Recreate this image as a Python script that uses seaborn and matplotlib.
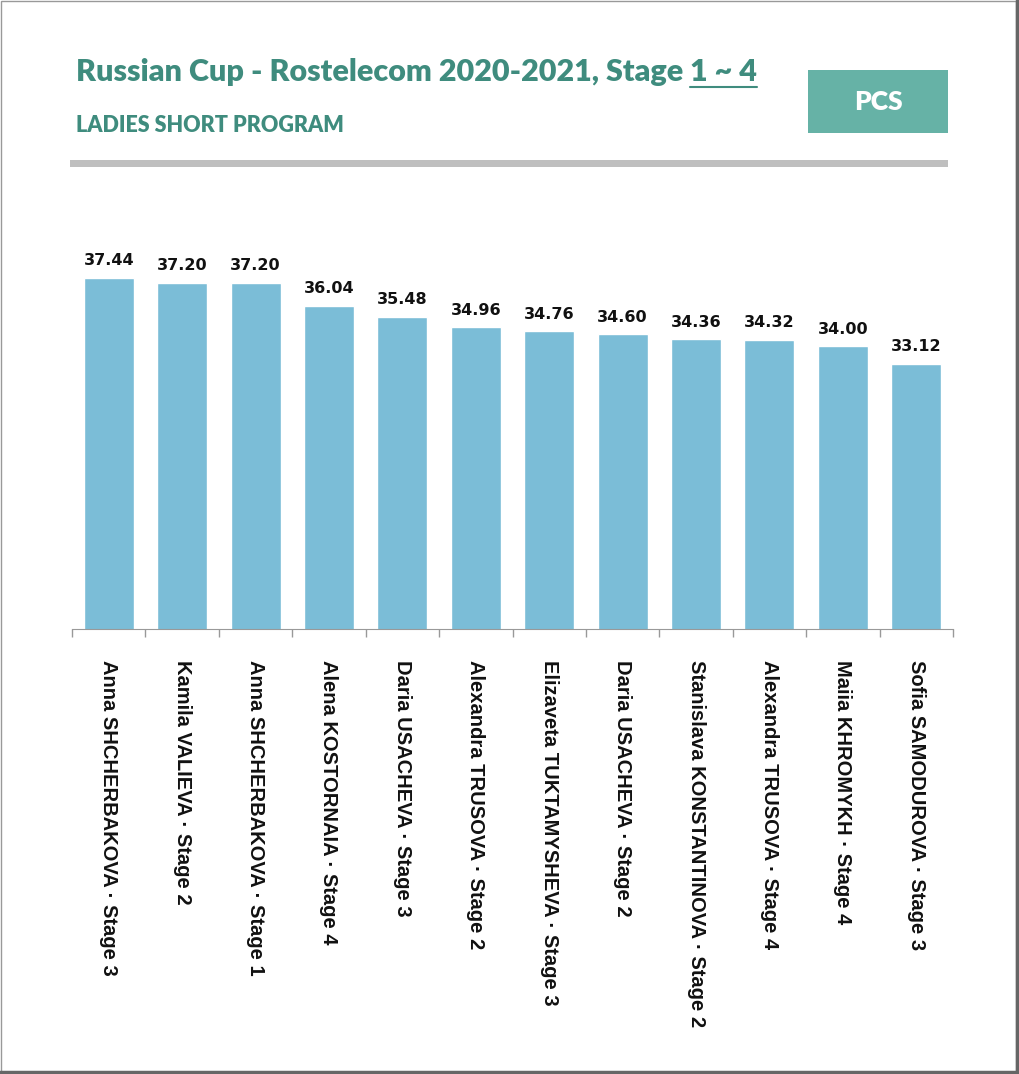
import matplotlib
matplotlib.use("Agg")
import matplotlib.pyplot as plt
import seaborn as sns
import pandas as pd
from matplotlib.patches import Rectangle
from matplotlib.lines import Line2D

# data
skaters = ["Anna SHCHERBAKOVA", "Kamila VALIEVA", "Anna SHCHERBAKOVA",
           "Alena KOSTORNAIA", "Daria USACHEVA", "Alexandra TRUSOVA",
           "Elizaveta TUKTAMYSHEVA", "Daria USACHEVA", "Stanislava KONSTANTINOVA",
           "Alexandra TRUSOVA", "Maiia KHROMYKH", "Sofia SAMODUROVA"]
stages = [3, 2, 1, 4, 3, 2, 3, 2, 2, 4, 4, 3]
pcs = [37.44, 37.20, 37.20, 36.04, 35.48, 34.96, 34.76, 34.60, 34.36, 34.32, 34.00, 33.12]

labels = [f"{n} · Stage {s}" for n, s in zip(skaters, stages)]
df = pd.DataFrame({"label": labels, "pcs": pcs})

TEAL = "#3F8C7E"
BOX = "#66B2A6"
BAR = "#7BBDD7"

sns.set_style("white")
plt.rcParams["font.family"] = ["DejaVu Sans"]

fig = plt.figure(figsize=(10.19, 10.74), dpi=100)
ax = fig.add_axes([72 / 1019, 1 - 629 / 1074, 881 / 1019, 398 / 1074])

sns.barplot(data=df, x="label", y="pcs", color=BAR, saturation=1, width=0.68, ax=ax)
ax.set_ylim(19.8, 39.8)
ax.set_xlim(-0.5, len(labels) - 0.5)

ax.bar_label(ax.containers[0], fmt="%.2f", padding=7, fontsize=11.5,
             fontweight="bold", color="#111111")

for s in ["top", "right", "left"]:
    ax.spines[s].set_visible(False)
ax.spines["bottom"].set_color("#999999")
ax.set_yticks([])
ax.set_xlabel("")
ax.set_ylabel("")
ax.set_xticks(range(len(labels)))
ax.set_xticklabels(labels, rotation=270, fontsize=14.5, fontweight="bold",
                   family="Liberation Sans", color="#111111",
                   va="top", ha="center")
ax.tick_params(axis="x", which="major", length=0, pad=22)
ax.set_xticks([i - 0.5 for i in range(len(labels) + 1)], minor=True)
ax.tick_params(axis="x", which="minor", bottom=True, length=6, width=1,
               color="#999999", direction="out")

# header
fig.canvas.draw()
r = fig.canvas.get_renderer()
t1 = fig.text(76 / 1019, 1 - 72 / 1074, "Russian Cup - Rostelecom 2020-2021, Stage ",
              family="Lato", fontweight="heavy", fontsize=22, color=TEAL, va="center")
bb = t1.get_window_extent(r)
t2 = fig.text(bb.x1 / 1019, 1 - 72 / 1074, "1 ~ 4", family="Lato", fontweight="heavy",
              fontsize=22, color=TEAL, va="center")
bb2 = t2.get_window_extent(r)
yline = (bb2.y0 - 1) / 1074
fig.add_artist(Line2D([bb2.x0 / 1019, bb2.x1 / 1019], [yline, yline],
                      color=TEAL, lw=1.5, transform=fig.transFigure))

fig.text(76 / 1019, 1 - 125 / 1074, "LADIES SHORT PROGRAM", family="Lato",
         fontweight="heavy", fontsize=15.5, color=TEAL, va="center")

fig.add_artist(Rectangle((808 / 1019, 1 - 133 / 1074), 140 / 1019, 63 / 1074,
                         transform=fig.transFigure, color=BOX, lw=0))
fig.text(878 / 1019, 1 - 102 / 1074, "PCS", family="Lato", fontweight="heavy",
         fontsize=19, color="white", ha="center", va="center")

fig.add_artist(Rectangle((70 / 1019, 1 - 167 / 1074), 878 / 1019, 7 / 1074,
                         transform=fig.transFigure, color="#BFBFBF", lw=0))

# frame
fig.add_artist(Rectangle((0.001, 0.002), 0.996, 0.997, transform=fig.transFigure,
                         fill=False, edgecolor="#999999", lw=1))
fig.add_artist(Line2D([0.998, 0.998], [0.0, 1.0], color="#666666", lw=2.5,
                      transform=fig.transFigure))
fig.add_artist(Line2D([0, 1], [0.002, 0.002], color="#666666", lw=2.5,
                      transform=fig.transFigure))

fig.savefig("out.png", dpi=100)
